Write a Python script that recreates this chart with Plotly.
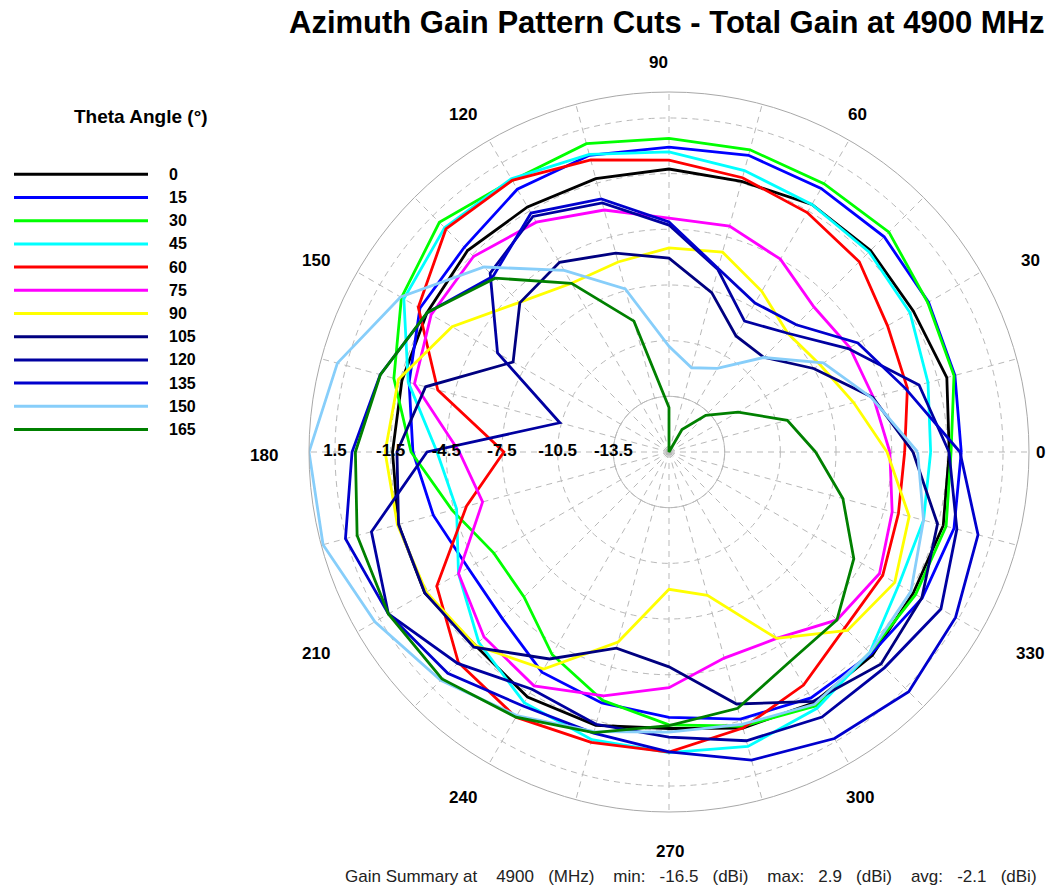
import plotly.graph_objects as go

# ---------------- data ----------------
AZIMUTH_DEG = [0, 15, 30, 45, 60, 75, 90, 105, 120, 135, 150, 165,
               180, 195, 210, 225, 240, 255, 270, 285, 300, 315, 330, 345]

THETA_CUTS = ["0", "15", "30", "45", "60", "75", "90", "105", "120", "135", "150", "165"]
CUT_COLORS = ["#000000", "#0000FF", "#00FF00", "#00FFFF", "#FF0000", "#FF00FF",
              "#FFFF00", "#000080", "#0000A0", "#0000CD", "#87CEFA", "#008000"]

GAIN_T0 = [-1.4, -1.0, -1.3, -1.14, -1.1, -1.4, -1.25, -1.25, -1.25, -1.15, -1.45, -1.6,
           -1.6, -1.4, -1.3, -1.75, -1.25, -1.25, -1.6, -1.1, -0.9, -1.0, -1.3, -1.2]
GAIN_T15 = [-0.75, -0.55, -0.35, -0.1, -0.1, 0.05, -0.07, 0.05, -0.15, -0.9, -1.0, -2.0,
            -2.7, -3.35, -4.0, -3.8, -2.8, -2.5, -2.2, -1.6, -1.2, -1.1, -0.75, -0.6]
GAIN_T30 = [-1.3, -0.6, -0.4, 0.26, 0.2, 0.36, 0.4, 0.7, 0.4, 1.0, 0.15, -1.15,
            -2.6, -4.4, -5.6, -5.45, -3.9, -2.65, -1.8, -1.2, -0.7, -1.2, -1.15, -1.04]
GAIN_T45 = [-2.4, -2.05, -1.5, -1.25, -1.1, -0.8, -0.33, 0.1, 0.5, 0.6, 0.0, -1.95,
            -4.0, -4.65, -3.4, -2.0, -0.9, -0.45, -0.3, -0.07, -0.55, -1.2, -2.2, -2.3]
GAIN_T60 = [-3.8, -3.2, -2.9, -2.0, -1.6, -1.2, -0.77, -0.2, 0.4, 0.5, -0.9, -3.6,
            -7.6, -5.2, -2.05, -0.45, 0.0, -0.3, -0.33, -1.1, -2.0, -3.1, -3.2, -3.7]
GAIN_T75 = [-4.6, -5.1, -5.25, -5.45, -4.5, -3.9, -3.9, -3.0, -2.2, -1.6, -1.7, -2.3,
            -5.2, -6.1, -3.4, -2.4, -1.95, -2.9, -3.8, -5.0, -4.9, -3.7, -3.4, -4.05]
GAIN_T90 = [-4.75, -6.2, -7.1, -7.45, -6.5, -5.35, -5.5, -5.9, -6.0, -5.1, -3.0, -1.4,
            -1.2, -1.35, -1.4, -1.75, -3.0, -5.9, -9.1, -8.5, -4.9, -2.9, -2.45, -3.1]
GAIN_T105 = [-3.35, -5.13, -7.5, -9.28, -9.28, -7.61, -6.05, -5.4, -4.7, -5.13, -6.8, -2.92,
             -1.84, -1.41, -1.31, -1.63, -3.62, -5.56, -4.92, -2.44, -0.98, -0.34, -0.77, -1.52]
GAIN_T120 = [-1.41, -2.55, -5.35, -7.45, -8.36, -6.32, -4.27, -2.6, -1.84, -2.87, -5.83, -10.41,
             -3.46, 0.1, 0.96, -0.39, -1.74, -1.31, -1.14, -0.39, -0.01, -0.07, 0.42, -0.44]
GAIN_T135 = [-0.82, -3.3, -4.75, -6.8, -7.23, -6.26, -4.1, -2.38, -1.63, -3.1, -1.47, -0.39,
             0.58, 1.55, 0.96, 0.36, -0.71, -0.82, -0.34, 0.69, 1.33, 1.77, 1.33, 0.74]
GAIN_T150 = [-3.1, -5.2, -6.9, -9.3, -11.3, -11.8, -10.8, -7.4, -5.2, -2.4, 0.2, 2.0,
             2.9, 2.8, 1.8, 0.9, -0.1, -0.9, -1.4, -1.3, -0.8, -1.2, -1.45, -2.3]
GAIN_T165 = [-8.6, -9.9, -12.2, -13.7, -15.1, -16.5, -14.1, -9.2, -6.0, -3.25, -1.46, -0.4,
             0.4, 0.9, 0.96, 0.8, 0.0, -0.85, -1.75, -2.2, -3.46, -3.7, -5.0, -6.8]

GAIN_SERIES = [GAIN_T0, GAIN_T15, GAIN_T30, GAIN_T45, GAIN_T60, GAIN_T75,
               GAIN_T90, GAIN_T105, GAIN_T120, GAIN_T135, GAIN_T150, GAIN_T165]

R_RANGE = [-16.5, 2.9]
RADIAL_TICKS = [-13.5, -10.5, -7.5, -4.5, -1.5, 1.5]
RADIAL_TICK_TEXT = ["-13.5", "-10.5", "-7.5", "-4.5", "-1.5", "1.5"]
ANGLE_GRID = AZIMUTH_DEG
ANGLE_LABEL_TEXT = ["0", "30", "60", "90", "120", "150", "180", "210", "240", "270", "300", "330"]
# label anchor positions (pixels) around the dial
ANGLE_LABEL_PX = [(1040, 452), (1030, 260), (857, 115), (658, 62), (463, 115), (316, 260),
                  (264, 455), (316, 653), (463, 797), (670, 851), (860, 797), (1030, 653)]

TITLE = "Azimuth Gain Pattern Cuts - Total Gain at 4900 MHz"
LEGEND_TITLE = "Theta Angle (°)"
SUMMARY = ("Gain Summary at    4900   (MHz)    min:   -16.5   (dBi)    "
           "max:   2.9   (dBi)    avg:   -2.1   (dBi)")

FONT = "Liberation Sans, Arial, sans-serif"
GRID = "#b9b9b9"
W, H = 1057, 891

# ---------------- figure ----------------
fig = go.Figure()

# solid innermost grid circle
circ_theta = list(range(0, 361, 2))
fig.add_trace(go.Scatterpolar(r=[RADIAL_TICKS[0]] * len(circ_theta), theta=circ_theta,
                              mode="lines", line=dict(color=GRID, width=1),
                              hoverinfo="skip", showlegend=False))

for name, color, vals in zip(THETA_CUTS, CUT_COLORS, GAIN_SERIES):
    fig.add_trace(go.Scatterpolar(r=vals + [vals[0]], theta=AZIMUTH_DEG + [360],
                                  mode="lines", name=name,
                                  line=dict(color=color, width=2.8),
                                  showlegend=False))

# radial tick labels along 180 deg
fig.add_trace(go.Scatterpolar(r=RADIAL_TICKS, theta=[180] * len(RADIAL_TICKS), mode="text",
                              text=["<b>%s</b>" % t for t in RADIAL_TICK_TEXT],
                              textposition="middle center",
                              textfont=dict(family=FONT, size=17, color="black"),
                              cliponaxis=False, hoverinfo="skip", showlegend=False))

cx, cy, R = 669, 452, 360
fig.update_layout(
    width=W, height=H,
    margin=dict(l=0, r=0, t=0, b=0),
    paper_bgcolor="white",
    showlegend=False,
    polar=dict(
        domain=dict(x=[(cx - R) / W, (cx + R) / W], y=[(H - cy - R) / H, (H - cy + R) / H]),
        bgcolor="white",
        radialaxis=dict(range=R_RANGE, tickvals=RADIAL_TICKS, showticklabels=False,
                        ticks="", showline=False, gridcolor=GRID, griddash="6px,5px",
                        gridwidth=1, angle=180),
        angularaxis=dict(rotation=0, direction="counterclockwise", tickvals=ANGLE_GRID,
                         showticklabels=False, ticks="", showline=True,
                         linecolor="#a8a8a8", linewidth=1,
                         gridcolor=GRID, griddash="6px,5px", gridwidth=1),
    ),
)

# angular labels
for txt, (px, py) in zip(ANGLE_LABEL_TEXT, ANGLE_LABEL_PX):
    fig.add_annotation(x=px / W, y=1 - py / H, xref="paper", yref="paper",
                       text="<b>%s</b>" % txt, showarrow=False,
                       font=dict(family=FONT, size=17, color="black"),
                       xanchor="center", yanchor="middle")

# title
fig.add_annotation(x=667 / W, y=1 - 22 / H, xref="paper", yref="paper",
                   text="<b>%s</b>" % TITLE, showarrow=False,
                   font=dict(family=FONT, size=31, color="black"),
                   xanchor="center", yanchor="middle")

# legend
fig.add_annotation(x=141 / W, y=1 - 117 / H, xref="paper", yref="paper",
                   text="<b>%s</b>" % LEGEND_TITLE, showarrow=False,
                   font=dict(family=FONT, size=19, color="black"),
                   xanchor="center", yanchor="middle")
for i, (name, color) in enumerate(zip(THETA_CUTS, CUT_COLORS)):
    yy = 1 - (174.3 + 23.2 * i) / H
    fig.add_shape(type="line", xref="paper", yref="paper",
                  x0=14 / W, x1=148 / W, y0=yy, y1=yy,
                  line=dict(color=color, width=3))
    fig.add_annotation(x=167 / W, y=yy, xref="paper", yref="paper",
                       text="<b>%s</b>" % name, showarrow=False,
                       font=dict(family=FONT, size=16, color="black"),
                       xanchor="left", yanchor="middle")

# summary
fig.add_annotation(x=691 / W, y=1 - 876 / H, xref="paper", yref="paper",
                   text=SUMMARY.replace(" ", "\u00a0"), showarrow=False,
                   font=dict(family=FONT, size=17, color="#222222"),
                   xanchor="center", yanchor="middle")

fig.write_html("out.html", config={"displayModeBar": False},
               post_script="document.body.style.margin='0px';")
